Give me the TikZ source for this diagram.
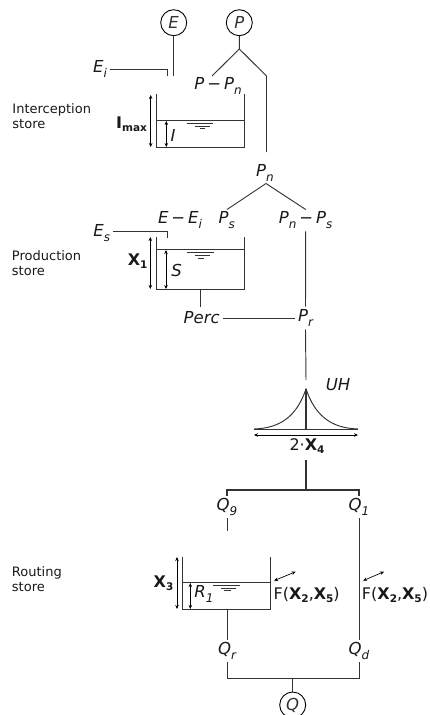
\documentclass[tikz,border=0pt]{standalone}
\usepackage{fontspec}
\setmainfont{DejaVu Sans}
\usetikzlibrary{arrows.meta}
\tikzset{
  x=1pt,y=-1pt,
  varlab/.style={inner xsep=2.5pt,inner ysep=0pt,minimum height=22pt,font=\fontsize{16.5}{16.5}\selectfont\itshape,text=black!90},
  plainlab/.style={inner sep=0pt,font=\fontsize{16}{16}\selectfont,text=black!90},
  storelab/.style={inner sep=0pt,anchor=west,align=left,font=\fontsize{13}{14.5}\selectfont,text=black!90},
  flux/.style={circle,draw=black,line width=0.9pt,minimum size=26pt,inner sep=0pt,font=\fontsize{16.5}{16.5}\selectfont\itshape},
  dim/.style={{Stealth[length=4pt,width=3.5pt]}-{Stealth[length=4pt,width=3.5pt]},line width=0.7pt,draw=black},
}
\newcommand{\subs}[1]{\raisebox{-0.28em}{\fontsize{12}{12}\selectfont #1}}
\newcommand{\bsub}[2]{\textbf{#1}\raisebox{-0.2em}{\fontsize{10.5}{10.5}\selectfont\bfseries #2}}
\newcommand{\mns}{\hspace{0.18em}−\hspace{0.18em}}
\begin{document}
\begin{tikzpicture}[color=black!80,line width=0.95pt]
\useasboundingbox (0,0) rectangle (430,715);
% fluxes
\node[flux] (E) at (173.7,22.7) {E};
\node[flux] (P) at (239.3,22.7) {P};
\node[flux] (Q) at (292.7,705) {Q};
% variable labels
\node[varlab] (Ei) at (100,69) {E\subs{i}};
\node[varlab] (PPn) at (218,86) {P\mns P\subs{n}};
\node[varlab] (Pn) at (265,173) {P\subs{n}};
\node[varlab] (EEi) at (180,220) {E\mns E\subs{i}};
\node[varlab] (Ps) at (226.7,220) {P\subs{s}};
\node[varlab] (PnPs) at (305.7,220) {P\subs{n}\mns P\subs{s}};
\node[varlab] (Es) at (101.7,233) {E\subs{s}};
\node[varlab] (Perc) at (201.7,318) {Perc};
\node[varlab] (Pr) at (305.5,318) {P\subs{r}};
\node[varlab] (UH) at (338,385) {UH};
\node[varlab] (Q9) at (227,507) {Q\subs{9}};
\node[varlab] (Q1) at (359,507) {Q\subs{1}};
\node[varlab] (Qr) at (227,651) {Q\subs{r}};
\node[varlab] (Qd) at (359,651) {Q\subs{d}};
\node[varlab] (I) at (173,135) {I};
\node[varlab] (S) at (176.7,270) {S};
\node[varlab] (R1) at (204,594) {R\subs{1}};
% parameter and store labels
\node[plainlab] (Imax) at (131.5,124) {\bsub{I}{max}};
\node[plainlab] (X1) at (137.7,261) {\bsub{X}{1}};
\node[plainlab] (X3) at (163.5,583) {\bsub{X}{3}};
\node[plainlab] (X4) at (307,446) {2·\bsub{X}{4}};
\node[plainlab] (F1) at (306.7,595) {F(\bsub{X}{2},\bsub{X}{5})};
\node[plainlab] (F2) at (395,595) {F(\bsub{X}{2},\bsub{X}{5})};
\node[storelab] (T1) at (12,116) {Interception\\store};
\node[storelab] (T2) at (11.5,263) {Production\\store};
\node[storelab] (T3) at (11.5,579) {Routing\\store};
% junction coordinates
\coordinate (Pj) at (239.3,49);
\coordinate (Pb) at (266.5,76);
\coordinate (Pc) at (266.5,152);
\coordinate (Pl) at (212,76);
\coordinate (Et) at (173.7,76);
\coordinate (Ed) at (167,76);
\coordinate (Ed2) at (167,238);
\coordinate (Pnl) at (227,209.5);
\coordinate (Pnr) at (305.7,209.5);
\coordinate (Pnt) at (266,183.5);
\coordinate (Q0) at (306,460);
\coordinate (Qj) at (306,490);
\coordinate (Qb) at (359,490);
\coordinate (Q9e) at (227,531);
\coordinate (Qe) at (359,678);
\coordinate (Qf) at (292.7,678);
\coordinate (UHin) at (306,380);
\coordinate (St2) at (200.3,289);
\coordinate (St2b) at (200.3,307);
\coordinate (St3) at (227,609.3);
% connectors
\draw[line width=1.1pt] (E.south) -- (Et);
\draw (Ei.east) -| (Ed);
\draw (P.south) -- (Pj) -- (Pl);
\draw (Pj) -- (Pb) -- (Pc);
\draw (Pnl) -- (Pnt) -- (Pnr);
\draw (Es.east) ++(0,-2) -| (Ed2);
\draw (PnPs.south) -- (Pr.north);
\draw (Perc.east) -- (Pr.west);
\draw (Pr.south) -- (UHin);
\draw[line width=1.3pt] (Q0) -- (Qj);
\draw[line width=1.1pt] (Q9.north) |- (Qb) -- (Q1.north);
\draw (Q9.south) -- (Q9e);
\draw (Q1.south) -- (Qd.north);
\draw (Qr.south) |- (Qe) -- (Qd.south);
\draw (Qf) -- (Q.north);
% interception store
\draw (156.7,94) -- (156.7,147) -- (244.3,147) -- (244.3,94);
\draw (156.7,120.5) -- (244.3,120.5);
\draw[dim] (150.7,95) -- (150.7,147);
\draw[dim] (166.3,121) -- (166.3,147);
\draw (186.7,123) -- (213.3,123) (195,126) -- (210,126) (200,128.7) -- (205,128.7);
% production store
\draw (156.7,236.7) -- (156.7,289) -- (244.3,289) -- (244.3,236.7);
\draw (156.7,249.7) -- (244.3,249.7);
\draw[dim] (150.3,237) -- (150.3,289);
\draw[dim] (166,250) -- (166,289);
\draw (187,252.5) -- (214,252.5) (195,255.5) -- (210,255.5) (197.5,258) -- (204,258);
\draw (St2) -- (St2b);
% unit hydrograph
\draw (254,429) -- (358,429);
\draw[line width=1.2pt] (306,389) -- (306,429);
\draw (254,429) .. controls (282,428) and (297,415) .. (306,389) .. controls (315,415) and (330,428) .. (358,429);
\draw[dim] (254,435) -- (358,435);
% routing store
\draw (182.7,556.7) -- (182.7,609.3) -- (270,609.3) -- (270,556.7);
\draw (182.7,582.7) -- (270,582.7);
\draw[dim] (177,557) -- (177,609);
\draw[dim] (190.3,583) -- (190.3,609);
\draw (213,585) -- (240,585) (221,588) -- (236,588) (224,590.7) -- (231,590.7);
\draw (St3) -- (Qr.north);
\draw[dim] (274,580.7) -- (295.7,571.7);
\draw[dim] (363,580.7) -- (384,571.7);
\end{tikzpicture}
\end{document}
